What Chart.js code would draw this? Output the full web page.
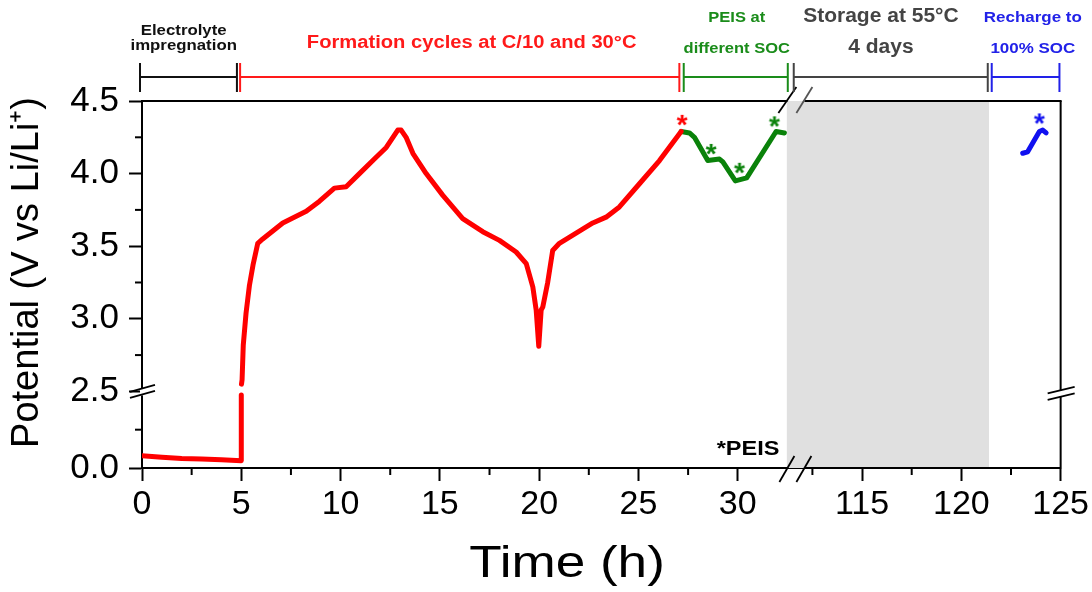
<!DOCTYPE html>
<html>
<head>
<meta charset="utf-8">
<script src="https://cdn.jsdelivr.net/npm/chart.js@4.4.1/dist/chart.umd.min.js"></script>
<style>
  body { margin: 0; background: #fff; }
</style>
</head>
<body>
<canvas id="chart" width="1092" height="592"></canvas>
<script>
// time in hours, potential in V vs Li/Li+
var wetH = [0, 1, 2, 3, 4, 5, 5];
var wetV = [0.40, 0.35, 0.31, 0.29, 0.27, 0.24, 2.38];

var formH = [5.01, 5.04, 5.10, 5.24, 5.41, 5.59, 5.83, 6.08, 7.09, 8.27, 8.94, 9.69, 10.28, 10.95, 11.70, 12.30, 12.88, 13.05,
  13.30, 13.64, 14.31, 15.15, 16.15, 17.16, 18.00, 18.84, 19.35, 19.68, 19.85, 19.98, 20.10, 20.18, 20.43, 20.68, 21.02,
  21.86, 22.70, 23.37, 24.04, 25.05, 26.06, 27.15];
var formV = [2.55, 2.58, 2.82, 3.04, 3.23, 3.37, 3.52, 3.55, 3.66, 3.74, 3.81, 3.90, 3.91, 4.00, 4.10, 4.18, 4.30, 4.30,
  4.25, 4.14, 4.00, 3.85, 3.69, 3.60, 3.54, 3.46, 3.38, 3.22, 3.06, 2.81, 3.06, 3.08, 3.25, 3.47, 3.52,
  3.59, 3.66, 3.70, 3.77, 3.93, 4.09, 4.29];

var peisH = [27.15, 27.57, 27.82, 28.49, 29.08, 29.25, 29.88, 30.45, 31.93, 32.35];
var peisV = [4.29, 4.28, 4.25, 4.09, 4.10, 4.08, 3.95, 3.97, 4.29, 4.28];

var rechargeH = [123.09, 123.34, 123.93, 124.10, 124.27];
var rechargeV = [4.14, 4.15, 4.29, 4.30, 4.28];

// PEIS measurement marks
var starH = [27.2, 28.66, 30.09, 31.85, 123.93];
var starV = [4.37, 4.17, 4.04, 4.36, 4.38];

// storage window (grey)
var storageH = [111.2, 121.4];

var xTicks = [0, 5, 10, 15, 20, 25, 30, 115, 120, 125];
var xMinor = [2.5, 7.5, 12.5, 17.5, 22.5, 27.5, 112.5, 117.5, 122.5];
var yTicks = [0, 2.5, 3.0, 3.5, 4.0, 4.5];
var yMinor = [1.25, 2.75, 3.25, 3.75, 4.25];

// steps of the protocol shown above the plot
var phaseText = [['Electrolyte', 'impregnation'], ['Formation cycles at C/10 and 30°C'], ['PEIS at', 'different SOC'],
  ['Storage at 55°C', '4 days'], ['Recharge to', '100% SOC']];
var phaseFrom = [-0.1, 4.94, 27.28, 32.82, 121.53];
var phaseTo = [4.78, 27.06, 32.52, 121.33, 124.94];
var phaseMid = [2.1, 16.6, 29.95, 115.95, 123.6];

// axis breaks
var X_BREAK = 32.45, X_SHIFT = 78.74;
var Y_BREAK = 2.5, Y_LOW = 0.2111;
function tx(h) { return h < 60 ? h : h - X_SHIFT; }
function ty(v) { return v <= Y_BREAK ? v * Y_LOW : Y_BREAK * Y_LOW + (v - Y_BREAK); }
function pts(hs, vs) { return hs.map(function(h, i) { return {x: tx(h), y: ty(vs[i])}; }); }

var FONT = '"Liberation Sans", Arial, sans-serif';
var RED = '#ff0000', GREEN = '#0a820a', BLUE = '#1010f0';
var phaseColor = ['#111111', '#ff1a1a', '#1a8c1a', '#444444', '#2222e8'];
var phaseFont = ['bold 15px', 'bold 18px', 'bold 15px', 'bold 20px', 'bold 15px'];
var phaseStretch = [1.12, 1.12, 1.1, 1.05, 1.13];
var starColor = [RED, GREEN, GREEN, GREEN, BLUE];

function starImage(color) {
  var c = document.createElement('canvas');
  c.width = 18; c.height = 18;
  var g = c.getContext('2d');
  g.fillStyle = color;
  g.font = 'bold 28px ' + FONT;
  g.textAlign = 'center';
  var m = g.measureText('*');
  g.fillText('*', 9, 9 + (m.actualBoundingBoxAscent - m.actualBoundingBoxDescent) / 2);
  return c;
}
var starImgs = starColor.map(starImage);

function line(ctx, x1, y1, x2, y2) {
  ctx.beginPath(); ctx.moveTo(x1, y1); ctx.lineTo(x2, y2); ctx.stroke();
}
// text a little wider than the font gives, like the reference
function wideText(ctx, text, x, y, sx, rot) {
  ctx.save();
  ctx.translate(x, y);
  if (rot) ctx.rotate(rot);
  ctx.scale(sx, 1);
  ctx.fillText(text, 0, 0);
  ctx.restore();
}

var decor = {
  id: 'decor',
  afterDatasetsDraw: function(chart) {
    var ctx = chart.ctx, a = chart.chartArea, xs = chart.scales.x, ys = chart.scales.y;
    var bx = xs.getPixelForValue(X_BREAK);
    var by = ys.getPixelForValue(ty(Y_BREAK));
    ctx.save();
    ctx.strokeStyle = '#000';
    ctx.lineWidth = 2;

    // minor ticks
    xMinor.forEach(function(h) {
      var px = xs.getPixelForValue(tx(h));
      line(ctx, px, a.bottom, px, a.bottom + 7);
    });
    yMinor.forEach(function(v) {
      var py = ys.getPixelForValue(ty(v));
      line(ctx, a.left - 7, py, a.left, py);
    });

    // frame with gaps at the breaks
    line(ctx, a.left, a.bottom, bx + 1, a.bottom);
    line(ctx, bx + 18, a.bottom, a.right, a.bottom);
    line(ctx, a.left - 1, a.top, bx + 1, a.top);
    line(ctx, bx + 18, a.top, a.right + 1, a.top);
    line(ctx, a.right, a.top, a.right, by - 1);
    line(ctx, a.right, by + 5, a.right, a.bottom + 1);
    ctx.fillStyle = '#fff';
    ctx.fillRect(a.left - 2, by - 3, 4, 7);

    // break marks
    ctx.lineWidth = 1.8;
    line(ctx, bx - 7, a.bottom + 14, bx + 8, a.bottom - 12);
    line(ctx, bx + 10, a.bottom + 14, bx + 25, a.bottom - 12);
    line(ctx, bx - 8, a.top + 12, bx + 10, a.top - 14);
    ctx.strokeStyle = '#555';
    line(ctx, bx + 10, a.top + 12, bx + 26, a.top - 14);
    ctx.strokeStyle = '#000';
    line(ctx, a.left - 12, by + 0.5, a.left + 13, by - 6.5);
    line(ctx, a.left - 12, by + 6.5, a.left + 13, by - 0.5);
    line(ctx, a.right - 13, by + 2, a.right + 14, by - 4.5);
    line(ctx, a.right - 13, by + 8.5, a.right + 14, by + 2);

    // protocol bars above the plot
    ctx.lineWidth = 2;
    ctx.textAlign = 'center';
    ctx.textBaseline = 'alphabetic';
    phaseText.forEach(function(lines, i) {
      var x1 = xs.getPixelForValue(tx(phaseFrom[i]));
      var x2 = xs.getPixelForValue(tx(phaseTo[i]));
      ctx.strokeStyle = phaseColor[i];
      line(ctx, x1, 77, x2, 77);
      line(ctx, x1, 63, x1, 92);
      line(ctx, x2, 63, x2, 92);
      ctx.fillStyle = phaseColor[i];
      ctx.font = phaseFont[i] + ' ' + FONT;
      var xm = xs.getPixelForValue(tx(phaseMid[i]));
      var sx = phaseStretch[i];
      if (lines.length === 2) {
        wideText(ctx, lines[0], xm, i === 0 ? 35 : 22, sx);
        wideText(ctx, lines[1], xm, i === 0 ? 50 : 53, sx);
      } else {
        wideText(ctx, lines[0], xm, 48, sx);
      }
    });

    ctx.fillStyle = '#000';
    ctx.font = 'bold 21px ' + FONT;
    ctx.textAlign = 'right';
    wideText(ctx, '*PEIS', bx - 7, a.bottom - 13, 1.12);

    // axis titles
    ctx.font = '45px ' + FONT;
    ctx.textAlign = 'center';
    ctx.textBaseline = 'middle';
    wideText(ctx, 'Time (h)', 567, 565, 1.18);
    ctx.font = '38px ' + FONT;
    ctx.textAlign = 'right';
    wideText(ctx, 'Potential (V vs Li/Li\u207A)', 28, 97, 1, -Math.PI / 2);
    ctx.restore();
  }
};

var lineDs = function(data, color) {
  return {
    data: data, showLine: true, borderColor: color, borderWidth: 5, pointRadius: 0,
    borderJoinStyle: 'round', borderCapStyle: 'round', fill: false, order: 2
  };
};

new Chart(document.getElementById('chart'), {
  type: 'scatter',
  data: {
    datasets: [
      {
        data: [{x: tx(storageH[0]), y: ty(4.5)}, {x: tx(storageH[1]), y: ty(4.5)}],
        showLine: true, borderWidth: 0, pointRadius: 0, fill: 'origin',
        backgroundColor: '#e0e0e0', order: 10
      },
      lineDs(pts(wetH, wetV), RED),
      lineDs(pts(formH, formV), RED),
      lineDs(pts(peisH, peisV), GREEN),
      lineDs(pts(rechargeH, rechargeV), BLUE),
      {
        data: pts(starH, starV), showLine: false, order: 1,
        pointStyle: function(c) { return starImgs[c.dataIndex]; },
        pointRadius: 9
      }
    ]
  },
  options: {
    responsive: false,
    animation: false,
    layout: { padding: { top: 101, right: 30, left: 0, bottom: 0 } },
    plugins: { legend: { display: false }, tooltip: { enabled: false } },
    scales: {
      x: {
        type: 'linear', min: 0, max: tx(125),
        afterFit: function(s) { s.height = 124; },
        afterBuildTicks: function(s) { s.ticks = xTicks.map(function(h) { return {value: tx(h)}; }); },
        ticks: {
          callback: function(v, i) { return xTicks[i]; },
          font: { family: FONT, size: 34 }, color: '#000', padding: 3, maxRotation: 0, autoSkip: false
        },
        grid: { drawOnChartArea: false, tickLength: 13, tickWidth: 2, tickColor: '#000' },
        border: { color: '#000', width: 2 }
      },
      y: {
        type: 'linear', min: 0, max: ty(4.5),
        afterFit: function(s) { s.width = 142; },
        afterBuildTicks: function(s) { s.ticks = yTicks.map(function(v) { return {value: ty(v)}; }); },
        ticks: {
          callback: function(v, i) { return yTicks[i].toFixed(1); },
          font: { family: FONT, size: 35 }, color: '#000', padding: 10, autoSkip: false
        },
        grid: { drawOnChartArea: false, tickLength: 13, tickWidth: 2, tickColor: '#000' },
        border: { color: '#000', width: 2 }
      }
    }
  },
  plugins: [decor]
});
</script>
</body>
</html>
